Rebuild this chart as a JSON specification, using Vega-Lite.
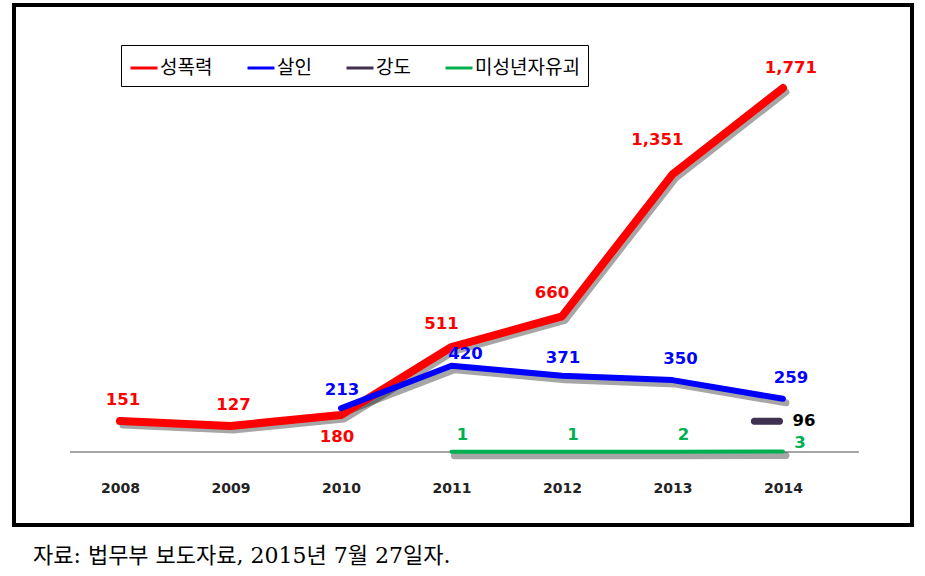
{
  "$schema": "https://vega.github.io/schema/vega-lite/v6.json",
  "width": 898,
  "height": 520,
  "padding": {"left": 14, "top": 5, "right": 13, "bottom": 5},
  "background": "white",
  "config": {
    "view": {"stroke": "black", "strokeWidth": 4},
    "font": "Noto Sans CJK KR"
  },
  "title": {
    "text": "자료: 법무부 보도자료, 2015년 7월 27일자.",
    "orient": "bottom",
    "anchor": "start",
    "frame": "group",
    "dx": 19,
    "offset": 21,
    "fontSize": 22,
    "fontWeight": "normal",
    "color": "black",
    "font": "DejaVu Serif, Noto Sans CJK KR"
  },
  "data": {
    "values": [
      {"year": 2008, "series": "성폭력", "value": 151},
      {"year": 2009, "series": "성폭력", "value": 127},
      {"year": 2010, "series": "성폭력", "value": 180},
      {"year": 2011, "series": "성폭력", "value": 511},
      {"year": 2012, "series": "성폭력", "value": 660},
      {"year": 2013, "series": "성폭력", "value": 1351},
      {"year": 2014, "series": "성폭력", "value": 1771},
      {"year": 2010, "series": "살인", "value": 213},
      {"year": 2011, "series": "살인", "value": 420},
      {"year": 2012, "series": "살인", "value": 371},
      {"year": 2013, "series": "살인", "value": 350},
      {"year": 2014, "series": "살인", "value": 259},
      {"year": 2014, "series": "강도", "value": 96},
      {"year": 2011, "series": "미성년자유괴", "value": 1},
      {"year": 2012, "series": "미성년자유괴", "value": 1},
      {"year": 2013, "series": "미성년자유괴", "value": 2},
      {"year": 2014, "series": "미성년자유괴", "value": 3}
    ]
  },
  "layer": [
    {
      "mark": {"type": "rule", "color": "#a6a6a6", "strokeWidth": 2},
      "encoding": {
        "x": {"datum": 2007.55, "type": "quantitative", "scale": {"domain": [2007.041, 2015.168], "nice": false, "zero": false},
          "axis": {"values": [2008, 2009, 2010, 2011, 2012, 2013, 2014], "format": "d", "labelFont": "DejaVu Sans", "labelFontWeight": "bold", "labelFontSize": 14, "labelColor": "#222", "domain": false, "ticks": false, "grid": false, "title": null, "labelPadding": 0, "offset": -44}},
        "x2": {"datum": 2014.68},
        "y": {"datum": 0, "type": "quantitative", "scale": {"domain": [-355, 2175], "nice": false, "zero": false}, "axis": null}
      }
    },
    {
      "transform": [{"filter": "datum.series != '강도'"}],
      "mark": {"type": "line", "color": "black", "opacity": 0.35, "strokeWidth": 7, "xOffset": 3, "yOffset": 4, "strokeCap": "round", "strokeJoin": "round"},
      "encoding": {
        "x": {"field": "year", "type": "quantitative", "scale": {"domain": [2007.041, 2015.168], "nice": false, "zero": false}},
        "y": {"field": "value", "type": "quantitative", "scale": {"domain": [-355, 2175], "nice": false, "zero": false}},
        "detail": {"field": "series", "type": "nominal"}
      }
    },
    {
      "transform": [{"filter": "false"}],
      "mark": {"type": "line", "strokeWidth": 3},
      "encoding": {
        "x": {"field": "year", "type": "quantitative", "scale": {"domain": [2007.041, 2015.168], "nice": false, "zero": false}},
        "y": {"field": "value", "type": "quantitative", "scale": {"domain": [-355, 2175], "nice": false, "zero": false}},
        "color": {
          "field": "series", "type": "nominal",
          "scale": {"domain": ["성폭력", "살인", "강도", "미성년자유괴"], "range": ["#ff0000", "#0000ff", "#403152", "#00b050"]},
          "legend": {
            "title": null, "orient": "none", "legendX": 107, "legendY": 40, "direction": "horizontal",
            "strokeColor": "black", "padding": 8,
            "symbolType": "stroke", "symbolStrokeWidth": 3, "symbolSize": 729,
            "labelFontSize": 19, "labelFont": "Noto Sans CJK KR", "labelColor": "black", "labelOffset": 1,
            "columnPadding": 28
          }
        }
      }
    },
    {
      "transform": [{"filter": "datum.series == '성폭력'"}],
      "mark": {"type": "line", "color": "#ff0000", "strokeWidth": 8, "strokeCap": "round", "strokeJoin": "round"},
      "encoding": {
        "x": {"field": "year", "type": "quantitative", "scale": {"domain": [2007.041, 2015.168], "nice": false, "zero": false}},
        "y": {"field": "value", "type": "quantitative", "scale": {"domain": [-355, 2175], "nice": false, "zero": false}}
      }
    },
    {
      "transform": [{"filter": "datum.series == '살인'"}],
      "mark": {"type": "line", "color": "#0000ff", "strokeWidth": 6, "strokeCap": "round", "strokeJoin": "round"},
      "encoding": {
        "x": {"field": "year", "type": "quantitative", "scale": {"domain": [2007.041, 2015.168], "nice": false, "zero": false}},
        "y": {"field": "value", "type": "quantitative", "scale": {"domain": [-355, 2175], "nice": false, "zero": false}}
      }
    },
    {
      "transform": [{"filter": "datum.series == '미성년자유괴'"}],
      "mark": {"type": "line", "color": "#00b050", "strokeWidth": 4, "strokeCap": "round", "strokeJoin": "round"},
      "encoding": {
        "x": {"field": "year", "type": "quantitative", "scale": {"domain": [2007.041, 2015.168], "nice": false, "zero": false}},
        "y": {"field": "value", "type": "quantitative", "scale": {"domain": [-355, 2175], "nice": false, "zero": false}}
      }
    },
    {
      "transform": [{"filter": "datum.series == '강도'"}],
      "mark": {"type": "tick", "orient": "horizontal", "color": "#403152", "opacity": 1, "size": 32, "thickness": 7, "cornerRadius": 3, "xOffset": -16, "yOffset": -11},
      "encoding": {
        "x": {"field": "year", "type": "quantitative", "scale": {"domain": [2007.041, 2015.168], "nice": false, "zero": false}},
        "y": {"field": "value", "type": "quantitative", "scale": {"domain": [-355, 2175], "nice": false, "zero": false}}
      }
    },
    {
      "transform": [{"filter": "datum.series == '성폭력' && (datum.year == 2008 || datum.year == 2009)"}],
      "mark": {"type": "text", "font": "DejaVu Sans", "fontWeight": "bold", "fontSize": 16.5, "color": "#ff0000", "dy": -21, "dx": 3, "baseline": "middle"},
      "encoding": {
        "x": {"field": "year", "type": "quantitative", "scale": {"domain": [2007.041, 2015.168], "nice": false, "zero": false}},
        "y": {"field": "value", "type": "quantitative", "scale": {"domain": [-355, 2175], "nice": false, "zero": false}},
        "text": {"field": "value", "type": "quantitative", "format": ","}
      }
    },
    {
      "transform": [{"filter": "datum.series == '성폭력' && datum.year == 2010"}],
      "mark": {"type": "text", "font": "DejaVu Sans", "fontWeight": "bold", "fontSize": 16.5, "color": "#ff0000", "dy": 22, "dx": -4, "baseline": "middle"},
      "encoding": {
        "x": {"field": "year", "type": "quantitative", "scale": {"domain": [2007.041, 2015.168], "nice": false, "zero": false}},
        "y": {"field": "value", "type": "quantitative", "scale": {"domain": [-355, 2175], "nice": false, "zero": false}},
        "text": {"field": "value", "type": "quantitative", "format": ","}
      }
    },
    {
      "transform": [{"filter": "datum.series == '성폭력' && (datum.year == 2011 || datum.year == 2012)"}],
      "mark": {"type": "text", "font": "DejaVu Sans", "fontWeight": "bold", "fontSize": 16.5, "color": "#ff0000", "dy": -23, "dx": -10, "baseline": "middle"},
      "encoding": {
        "x": {"field": "year", "type": "quantitative", "scale": {"domain": [2007.041, 2015.168], "nice": false, "zero": false}},
        "y": {"field": "value", "type": "quantitative", "scale": {"domain": [-355, 2175], "nice": false, "zero": false}},
        "text": {"field": "value", "type": "quantitative", "format": ","}
      }
    },
    {
      "transform": [{"filter": "datum.series == '성폭력' && datum.year == 2013"}],
      "mark": {"type": "text", "font": "DejaVu Sans", "fontWeight": "bold", "fontSize": 16.5, "color": "#ff0000", "dy": -34, "dx": -15, "baseline": "middle"},
      "encoding": {
        "x": {"field": "year", "type": "quantitative", "scale": {"domain": [2007.041, 2015.168], "nice": false, "zero": false}},
        "y": {"field": "value", "type": "quantitative", "scale": {"domain": [-355, 2175], "nice": false, "zero": false}},
        "text": {"field": "value", "type": "quantitative", "format": ","}
      }
    },
    {
      "transform": [{"filter": "datum.series == '성폭력' && datum.year == 2014"}],
      "mark": {"type": "text", "font": "DejaVu Sans", "fontWeight": "bold", "fontSize": 16.5, "color": "#ff0000", "dy": -20, "dx": 8, "baseline": "middle"},
      "encoding": {
        "x": {"field": "year", "type": "quantitative", "scale": {"domain": [2007.041, 2015.168], "nice": false, "zero": false}},
        "y": {"field": "value", "type": "quantitative", "scale": {"domain": [-355, 2175], "nice": false, "zero": false}},
        "text": {"field": "value", "type": "quantitative", "format": ","}
      }
    },
    {
      "transform": [{"filter": "datum.series == '살인' && (datum.year == 2010 || datum.year == 2012)"}],
      "mark": {"type": "text", "font": "DejaVu Sans", "fontWeight": "bold", "fontSize": 16.5, "color": "#0000ff", "dy": -18, "dx": 1, "baseline": "middle"},
      "encoding": {
        "x": {"field": "year", "type": "quantitative", "scale": {"domain": [2007.041, 2015.168], "nice": false, "zero": false}},
        "y": {"field": "value", "type": "quantitative", "scale": {"domain": [-355, 2175], "nice": false, "zero": false}},
        "text": {"field": "value", "type": "quantitative", "format": ","}
      }
    },
    {
      "transform": [{"filter": "datum.series == '살인' && datum.year == 2011"}],
      "mark": {"type": "text", "font": "DejaVu Sans", "fontWeight": "bold", "fontSize": 16.5, "color": "#0000ff", "dy": -12, "dx": 14, "baseline": "middle"},
      "encoding": {
        "x": {"field": "year", "type": "quantitative", "scale": {"domain": [2007.041, 2015.168], "nice": false, "zero": false}},
        "y": {"field": "value", "type": "quantitative", "scale": {"domain": [-355, 2175], "nice": false, "zero": false}},
        "text": {"field": "value", "type": "quantitative", "format": ","}
      }
    },
    {
      "transform": [{"filter": "datum.series == '살인' && datum.year >= 2013"}],
      "mark": {"type": "text", "font": "DejaVu Sans", "fontWeight": "bold", "fontSize": 16.5, "color": "#0000ff", "dy": -21, "dx": 8, "baseline": "middle"},
      "encoding": {
        "x": {"field": "year", "type": "quantitative", "scale": {"domain": [2007.041, 2015.168], "nice": false, "zero": false}},
        "y": {"field": "value", "type": "quantitative", "scale": {"domain": [-355, 2175], "nice": false, "zero": false}},
        "text": {"field": "value", "type": "quantitative", "format": ","}
      }
    },
    {
      "transform": [{"filter": "datum.series == '미성년자유괴' && datum.year < 2014"}],
      "mark": {"type": "text", "font": "DejaVu Sans", "fontWeight": "bold", "fontSize": 16.5, "color": "#00b050", "dy": -17, "dx": 11, "baseline": "middle"},
      "encoding": {
        "x": {"field": "year", "type": "quantitative", "scale": {"domain": [2007.041, 2015.168], "nice": false, "zero": false}},
        "y": {"field": "value", "type": "quantitative", "scale": {"domain": [-355, 2175], "nice": false, "zero": false}},
        "text": {"field": "value", "type": "quantitative", "format": ","}
      }
    },
    {
      "transform": [{"filter": "datum.series == '미성년자유괴' && datum.year == 2014"}],
      "mark": {"type": "text", "font": "DejaVu Sans", "fontWeight": "bold", "fontSize": 16.5, "color": "#00b050", "dy": -8, "dx": 17, "baseline": "middle"},
      "encoding": {
        "x": {"field": "year", "type": "quantitative", "scale": {"domain": [2007.041, 2015.168], "nice": false, "zero": false}},
        "y": {"field": "value", "type": "quantitative", "scale": {"domain": [-355, 2175], "nice": false, "zero": false}},
        "text": {"field": "value", "type": "quantitative", "format": ","}
      }
    },
    {
      "transform": [{"filter": "datum.series == '강도'"}],
      "mark": {"type": "text", "font": "DejaVu Sans", "fontWeight": "bold", "fontSize": 16.5, "color": "black", "dy": -11, "dx": 21, "baseline": "middle"},
      "encoding": {
        "x": {"field": "year", "type": "quantitative", "scale": {"domain": [2007.041, 2015.168], "nice": false, "zero": false}},
        "y": {"field": "value", "type": "quantitative", "scale": {"domain": [-355, 2175], "nice": false, "zero": false}},
        "text": {"field": "value", "type": "quantitative", "format": ","}
      }
    }
  ]
}
